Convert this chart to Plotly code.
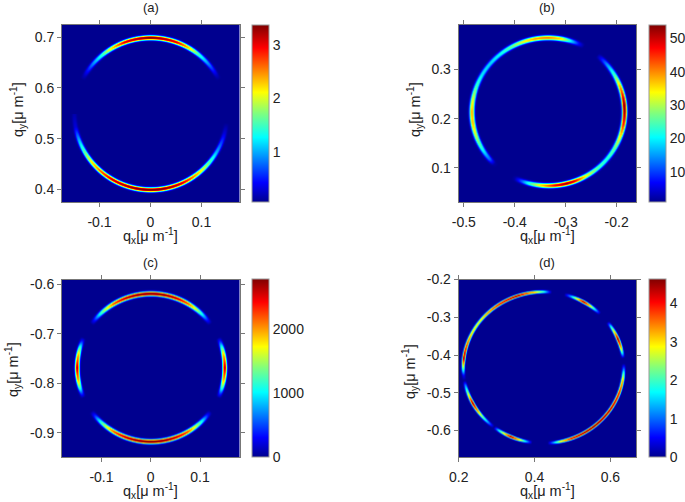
import numpy as np
import plotly.graph_objects as go

W, H = 685, 502

# Peak intensity around each ring: angle (degrees) -> value
A_ANGLES = [-190,-170,-160,-150,-140,-120,-100,-90,-80,-66,-50,-30,-15,-5,10,25,30,40,50,58,70,90,110,122,130,140,150,155,170,190]
A_PEAKS  = [0,   0.3,1.0,1.6,2.2,3.1,3.35,3.38,3.35,3.1,2.2,1.0,0.3,0,0,0,0.2,0.8,1.4,2.1,3.0,3.38,3.0,2.1,1.4,0.8,0.2,0,0,0]
B_ANGLES = [-180,-170,-160,-150,-140,-135,-130,-125,-120,-116,-110,-105,-95,-85,-76,-70,-60,-50,-40,-30,-20,-10,0,5,10,20,30,40,45,50,53,58,62,66,72,80,90,100,110,120,130,140,150,160,170,180]
B_PEAKS  = [38,37,30,22,12,2,0,0,0,2,12,22,36,47,52,48,33,25,22,26,34,46,53,54,50,38,24,14,8,1,0,0,1,6,18,35,40,38,32,25,20,18,19,24,32,38]
C_ANGLES = [-180,-170,-165,-160,-156,-144,-140,-135,-130,-120,-110,-100,-90,-80,-70,-60,-50,-45,-40,-36,-24,-20,-15,-10,0,10,15,20,24,36,40,45,50,60,70,80,90,100,110,120,130,135,140,144,156,160,165,170,180]
C_PEAKS  = [2600,1900,1300,500,0,0,350,900,1400,2200,2600,2750,2780,2750,2600,2200,1400,900,350,0,0,500,1300,1900,2600,1900,1300,500,0,0,350,900,1400,2200,2600,2750,2780,2750,2600,2200,1400,900,350,0,0,500,1300,1900,2600]
D_ANGLES = [-180,-174,-170,-166,-158,-152,-144,-134,-128,-124,-114,-108,-102,-98,-87,-83,-78,-70,-60,-50,-40,-30,-20,-10,-5,-1,3,7,10,15,22,28,33,37,45,50,55,60,65,70,75,80,84,90,96,109,124,143,153,166,173,180]
D_PEAKS  = [2.5,0.5,0,1.2,3,4.5,3.2,1.3,0,1.6,4.5,3.2,1.3,0,0,1.2,2.8,4.1,4.5,4.6,4.5,4.3,4,3.2,2.2,1,0,0,1.3,3.2,4.5,3,1.6,0,0,1.6,3.2,4.5,3,1.3,0,0,0,2,3.2,4.5,4,2.8,3,4,4.5,2.5]

X_RANGES = [(-0.1735,0.1745),(-0.51,-0.162),(-0.18,0.18),(0.2,0.6676)]
Y_RANGES = [(0.375,0.7243),(0.031,0.39),(-0.949,-0.59),(-0.67,-0.2)]
CENTERS  = [(0,0.55),(-0.335,0.215),(0,-0.768),(0.4225,-0.4325)]
RADII    = [(0.15,0.15),(0.15,0.15),(0.15,0.15),(0.212,0.201)]
SIGMAS   = [0.0032,0.0034,0.0032,0.0028]
Z_RANGES = [(0.056,3.375),(0.9,54),(0,2780),(0,4.62)]
X_TICKS  = [[-0.1,0,0.1],[-0.5,-0.4,-0.3,-0.2],[-0.1,0,0.1],[0.2,0.4,0.6]]
Y_TICKS  = [[0.4,0.5,0.6,0.7],[0.1,0.2,0.3],[-0.9,-0.8,-0.7,-0.6],[-0.6,-0.5,-0.4,-0.3,-0.2]]
Z_TICKS  = [[1,2,3],[10,20,30,40,50],[0,1000,2000],[0,1,2,3,4]]
TITLES   = ["(a)","(b)","(c)","(d)"]
X_TITLE  = "q<sub>x</sub>[μ m<sup>-1</sup>]"
Y_TITLE  = "q<sub>y</sub>[μ m<sup>-1</sup>]"
ANGLES   = [A_ANGLES,B_ANGLES,C_ANGLES,D_ANGLES]
PEAKS    = [A_PEAKS,B_PEAKS,C_PEAKS,D_PEAKS]

# Pixel boxes of the four panels and their axis-title anchors
BOXES = [(62,239.5,25,202),(458.7,636,25,202),(62,239.5,279.5,457),(458.7,636,279.5,457)]
CBAR_X = [252,649,252,649]
X_TITLE_POS = [(150,236),(547,236),(150,491),(547,491)]
Y_TITLE_POS = [(18,110),(415,110),(13,370),(410,372)]

JET = [[0,"#00008f"],[0.11,"#0000ff"],[0.365,"#00ffff"],[0.5,"#7fff7f"],[0.62,"#ffff00"],[0.87,"#ff0000"],[1,"#800000"]]
FONT = "Liberation Sans"
TXT = "#222222"
LINE = "#777777"

def labels(vals):
    return [f"{v:g}" for v in vals]

def note(text, px, py, size=14.5, angle=0):
    fig.add_annotation(text=text, xref="paper", yref="paper", x=px/W, y=1-py/H, showarrow=False,
                       textangle=angle, font=dict(family=FONT, size=size, color=TXT),
                       xanchor="center", yanchor="middle")

fig = go.Figure()
N = 178
for i in range(4):
    xs = np.linspace(*X_RANGES[i], N)
    ys = np.linspace(*Y_RANGES[i], N)
    gx, gy = np.meshgrid(xs, ys)
    cx, cy = CENTERS[i]
    rx, ry = RADII[i]
    u, v = (gx-cx)/rx, (gy-cy)/ry
    rho = np.hypot(u, v)
    ang = np.degrees(np.arctan2(v, u))
    peak = np.interp(ang, ANGLES[i], PEAKS[i])
    zmin, zmax = Z_RANGES[i]
    d = np.abs((rho-1)*min(rx, ry))/(SIGMAS[i]*np.sqrt(2))
    z = zmin + (peak - zmin).clip(0) * np.exp(-d**2.5)
    l, r, t, b = BOXES[i]
    suffix = "" if i == 0 else str(i+1)
    fig.add_trace(go.Heatmap(
        x=xs, y=ys, z=np.round(z, 3), zmin=zmin, zmax=zmax, zsmooth="best", colorscale=JET,
        xaxis="x"+suffix, yaxis="y"+suffix, hoverinfo="skip",
        colorbar=dict(x=CBAR_X[i]/W, xanchor="left", xpad=0, ypad=0, thickness=16.5,
                      y=1-(t+b)/2/H, yanchor="middle", len=(b-t)/H, lenmode="fraction",
                      outlinewidth=1, outlinecolor="#999999", ticks="",
                      tickvals=Z_TICKS[i], ticktext=labels(Z_TICKS[i]),
                      tickfont=dict(family=FONT, size=14, color=TXT)),
    ))
    common = dict(showgrid=False, zeroline=False, showline=True, linecolor=LINE, linewidth=1,
                  mirror="ticks", ticks="outside", ticklen=4, tickcolor=LINE, tickwidth=1,
                  tickfont=dict(family=FONT, size=14, color=TXT))
    fig.update_layout({
        "xaxis"+suffix: dict(domain=[l/W, r/W], range=X_RANGES[i], tickvals=X_TICKS[i],
                             ticktext=labels(X_TICKS[i]), anchor="y"+suffix,
                             ticklabelstandoff=3, **common),
        "yaxis"+suffix: dict(domain=[1-b/H, 1-t/H], range=Y_RANGES[i], tickvals=Y_TICKS[i],
                             ticktext=labels(Y_TICKS[i]), anchor="x"+suffix, **common),
    })
    note(TITLES[i], (l+r)/2, t-17, size=13)
    note(X_TITLE, *X_TITLE_POS[i])
    note(Y_TITLE, *Y_TITLE_POS[i], angle=-90)

fig.update_layout(width=W, height=H, margin=dict(l=0, r=0, t=0, b=0, autoexpand=False),
                  paper_bgcolor="white", plot_bgcolor="#00008f", showlegend=False)
fig.write_html("out.html", config={"displayModeBar": False},
               post_script="document.body.style.margin='0';document.body.style.overflow='hidden';")
